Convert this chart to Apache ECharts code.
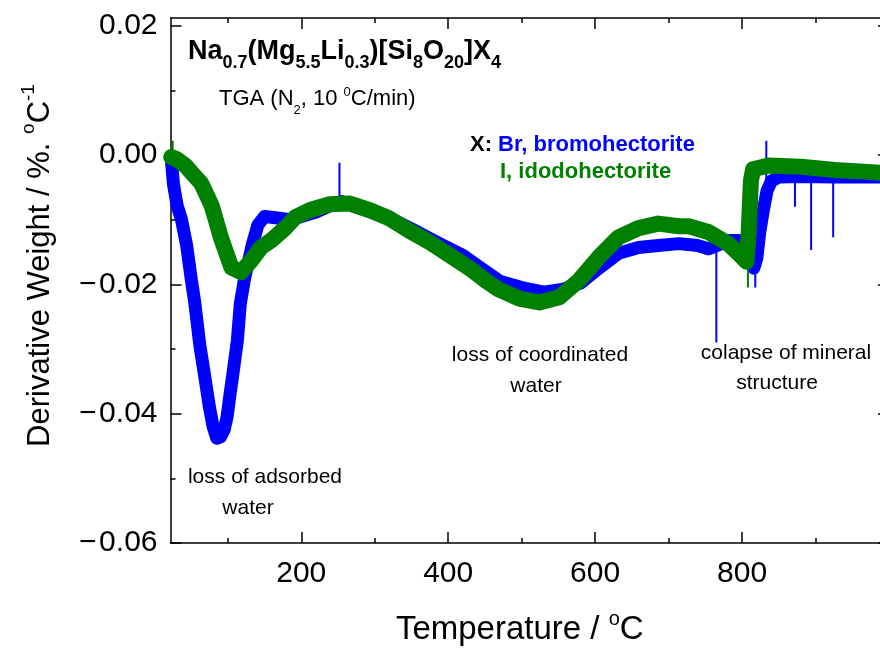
<!DOCTYPE html>
<html>
<head>
<meta charset="utf-8">
<script src="https://cdn.jsdelivr.net/npm/echarts@6/dist/echarts.min.js"></script>
<style>
html,body{margin:0;padding:0;background:#fff;}
#chart{width:880px;height:648px;}
</style>
</head>
<body>
<div id="chart"></div>
<script>
// ---------- data ----------
const blueT = [23, 26, 31, 37, 44, 50, 55, 62, 68, 75, 80, 85, 90, 95, 99, 103, 107, 113, 117, 123, 133, 141, 150, 165, 185, 200, 220, 240, 255, 275, 300, 330, 360, 390, 420, 445, 470, 500, 530, 555, 580, 605, 632, 659, 686, 714, 740, 754, 770, 781, 795, 806, 812, 816, 820, 824, 829, 834, 840, 850, 880, 926, 971, 998];
const blueV = [-0.0005, -0.0045, -0.0078, -0.0100, -0.0140, -0.0190, -0.0228, -0.0295, -0.0338, -0.0390, -0.0420, -0.0438, -0.0436, -0.0425, -0.0405, -0.0370, -0.0338, -0.0287, -0.0230, -0.0190, -0.0140, -0.0108, -0.0095, -0.0097, -0.0100, -0.0095, -0.0088, -0.0078, -0.0072, -0.0080, -0.0090, -0.0103, -0.0120, -0.0138, -0.0155, -0.0175, -0.0195, -0.0205, -0.0212, -0.0208, -0.0198, -0.0175, -0.0152, -0.0143, -0.0140, -0.0137, -0.0140, -0.0145, -0.0138, -0.0132, -0.0132, -0.0140, -0.0160, -0.0175, -0.0160, -0.0120, -0.0085, -0.0055, -0.0040, -0.0034, -0.0033, -0.0034, -0.0034, -0.0034];

const greenT = [23, 30, 42, 53, 64, 78, 91, 105, 118, 132, 145, 159, 178, 192, 212, 239, 266, 293, 320, 347, 375, 402, 429, 452, 469, 497, 524, 551, 578, 605, 632, 659, 686, 714, 727, 754, 781, 795, 806, 809, 812, 815, 836, 880, 926, 971, 998];
const greenV = [-0.0003, -0.0006, -0.0016, -0.0030, -0.0044, -0.0078, -0.0129, -0.0174, -0.0181, -0.0163, -0.0143, -0.0132, -0.0113, -0.0096, -0.0085, -0.0076, -0.0075, -0.0085, -0.0098, -0.0117, -0.0135, -0.0155, -0.0175, -0.0195, -0.0208, -0.0222, -0.0228, -0.0220, -0.0194, -0.0158, -0.0127, -0.0113, -0.0106, -0.0110, -0.0110, -0.0119, -0.0137, -0.0152, -0.0165, -0.0120, -0.0040, -0.0022, -0.0016, -0.0018, -0.0023, -0.0026, -0.0028];

// isolated spikes of the noisy traces
const blueSpikeT    = [252, 765, 818, 833, 872, 894, 924];
const blueSpikeFrom = [-0.0075, -0.0140, -0.0170, -0.0050, -0.0034, -0.0034, -0.0034];
const blueSpikeTo   = [-0.0012, -0.0290, -0.0205, 0.0022, -0.0080, -0.0147, -0.0127];
const greenSpikeT    = [25, 808];
const greenSpikeFrom = [-0.0005, -0.0160];
const greenSpikeTo   = [0.0022, -0.0205];

// axis ticks / labels
const xMajor = [200, 400, 600, 800];
const xMinor = [100, 300, 500, 700, 900];
const yMajor = [-0.06, -0.04, -0.02, 0, 0.02];
const yMinor = [-0.05, -0.03, -0.01, 0.01];

// ---------- build ----------
const FONT = '"Liberation Sans", Arial, Helvetica, sans-serif';
const zip = (xs, ys) => xs.map((x, i) => [x, ys[i]]);
function spikes(ts, a, b) {
  const out = [];
  ts.forEach((t, i) => { out.push([t, a[i]], [t, b[i]], null); });
  return out;
}
const BLUE = '#0000ff', GREEN = '#008000';
const XMIN = 22, XMAX = 1000, YMIN = -0.06, YMAX = 0.0212;

function xAx(pos, major, showLine, showLabel, extra) {
  return Object.assign({
    type: 'value', min: XMIN, max: XMAX, position: pos,
    axisLine: { show: showLine, onZero: false, lineStyle: { color: '#000', width: 1.5 } },
    axisTick: { show: true, inside: true, length: major ? 11 : 5, customValues: major ? xMajor : xMinor, lineStyle: { color: '#000', width: 1.5 } },
    axisLabel: { show: showLabel, customValues: xMajor, fontSize: 30, color: '#000', fontFamily: FONT, margin: 16 },
    splitLine: { show: false }
  }, extra || {});
}
function yAx(pos, major, showLine, showLabel, extra) {
  return Object.assign({
    type: 'value', min: YMIN, max: YMAX, position: pos,
    axisLine: { show: showLine, onZero: false, lineStyle: { color: '#000', width: 1.5 } },
    axisTick: { show: true, inside: true, length: major ? 11 : 5, customValues: major ? yMajor : yMinor, lineStyle: { color: '#000', width: 1.5 } },
    axisLabel: { show: showLabel, customValues: yMajor, fontSize: 30, color: '#000', fontFamily: FONT, margin: 13,
      formatter: v => (v < -1e-9 ? '\u2212\u200A' : '') + Math.abs(v).toFixed(2) },
    splitLine: { show: false }
  }, extra || {});
}

const chart = echarts.init(document.getElementById('chart'), null, { renderer: 'canvas' });
chart.setOption({
  animation: false,
  backgroundColor: '#fff',
  grid: { left: 170.5, top: 18, width: 718.5, height: 525, containLabel: false, outerBoundsMode: 'none' },
  xAxis: [
    xAx('bottom', true, true, true, {
      name: 'Temperature / {sup|o}C', nameLocation: 'middle', nameGap: 66,
      nameTextStyle: { fontSize: 33, color: '#000', fontFamily: FONT, padding: [0, 20, 0, 0],
        rich: { sup: { fontSize: 20, color: '#000', fontFamily: FONT, padding: [0, 0, 22, 0] } } }
    }),
    xAx('bottom', false, false, false),
    xAx('top', true, true, false),
    xAx('top', false, false, false)
  ],
  yAxis: [
    yAx('left', true, true, true, {
      name: 'Derivative Weight / %. {sup|o}C{sup|-1}', nameLocation: 'middle', nameGap: 110,
      nameTextStyle: { fontSize: 31, color: '#000', fontFamily: FONT, padding: [0, 0, 0, 30],
        rich: { sup: { fontSize: 19, color: '#000', fontFamily: FONT, padding: [0, 0, 22, 0] } } }
    }),
    yAx('left', false, false, false),
    yAx('right', true, true, false),
    yAx('right', false, false, false)
  ],
  series: [
    { name: 'Br, bromohectorite', type: 'line', data: zip(blueT, blueV), showSymbol: false, symbol: 'none',
      lineStyle: { color: BLUE, width: 13, cap: 'round', join: 'round' }, z: 2 },
    { name: 'Br spikes', type: 'line', data: spikes(blueSpikeT, blueSpikeFrom, blueSpikeTo), showSymbol: false, symbol: 'none',
      connectNulls: false, lineStyle: { color: BLUE, width: 2 }, z: 2 },
    { name: 'I, idodohectorite', type: 'line', data: zip(greenT, greenV), showSymbol: false, symbol: 'none',
      lineStyle: { color: GREEN, width: 16, cap: 'round', join: 'round' }, z: 3 },
    { name: 'I spikes', type: 'line', data: spikes(greenSpikeT, greenSpikeFrom, greenSpikeTo), showSymbol: false, symbol: 'none',
      connectNulls: false, lineStyle: { color: GREEN, width: 2 }, z: 3 }
  ],
  graphic: [
    { type: 'text', x: 188, y: 52, z: 10, style: {
      text: 'Na{s|0.7}(Mg{s|5.5}Li{s|0.3})[Si{s|8}O{s|20}]X{s|4}',
      fontSize: 27, fontWeight: 'bold', fontFamily: FONT, fill: '#000', verticalAlign: 'middle', align: 'left',
      rich: { s: { fontSize: 18, fontWeight: 'bold', fontFamily: FONT, fill: '#000', padding: [22, 0, 0, 0] } } } },
    { type: 'text', x: 219, y: 99, z: 10, style: {
      text: 'TGA (N{sub|2}, 10 {sup|0}C/min)',
      fontSize: 22, fontFamily: FONT, fill: '#000', verticalAlign: 'middle', align: 'left',
      rich: { sub: { fontSize: 13, fontFamily: FONT, fill: '#000', padding: [22, 0, 0, 0] },
              sup: { fontSize: 13, fontFamily: FONT, fill: '#000', padding: [0, 0, 14, 0] } } } },
    { type: 'text', x: 470, y: 145, z: 10, style: {
      text: '{k|X: }{b|Br, bromohectorite}',
      fontSize: 22, fontWeight: 'bold', fontFamily: FONT, fill: '#000', verticalAlign: 'middle', align: 'left',
      rich: { k: { fontSize: 22, fontWeight: 'bold', fontFamily: FONT, fill: '#000' },
              b: { fontSize: 22, fontWeight: 'bold', fontFamily: FONT, fill: BLUE } } } },
    { type: 'text', x: 500, y: 172, z: 10, style: {
      text: 'I, idodohectorite', fontSize: 22, fontWeight: 'bold', fontFamily: FONT, fill: GREEN,
      verticalAlign: 'middle', align: 'left' } },
    { type: 'text', x: 265, y: 477, z: 10, style: { text: 'loss of adsorbed', fontSize: 21, fontFamily: FONT, fill: '#000', align: 'center', verticalAlign: 'middle' } },
    { type: 'text', x: 248, y: 508, z: 10, style: { text: 'water', fontSize: 21, fontFamily: FONT, fill: '#000', align: 'center', verticalAlign: 'middle' } },
    { type: 'text', x: 540, y: 355, z: 10, style: { text: 'loss of coordinated', fontSize: 21, fontFamily: FONT, fill: '#000', align: 'center', verticalAlign: 'middle' } },
    { type: 'text', x: 536, y: 386, z: 10, style: { text: 'water', fontSize: 21, fontFamily: FONT, fill: '#000', align: 'center', verticalAlign: 'middle' } },
    { type: 'text', x: 786, y: 353, z: 10, style: { text: 'colapse of mineral', fontSize: 21, fontFamily: FONT, fill: '#000', align: 'center', verticalAlign: 'middle' } },
    { type: 'text', x: 777, y: 383, z: 10, style: { text: 'structure', fontSize: 21, fontFamily: FONT, fill: '#000', align: 'center', verticalAlign: 'middle' } }
  ]
});
</script>
</body>
</html>
